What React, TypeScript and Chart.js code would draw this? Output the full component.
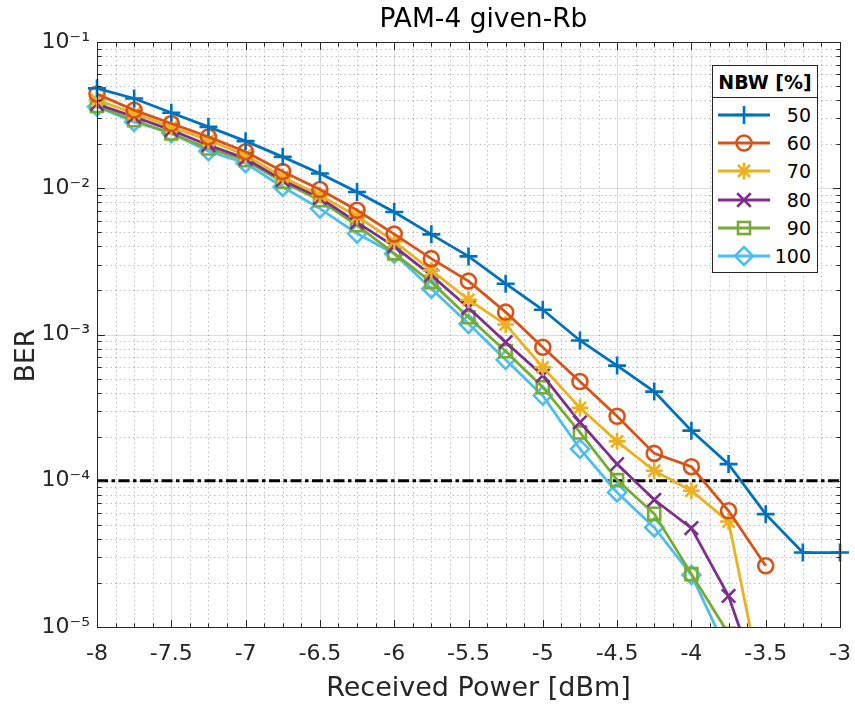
import React, { useEffect, useRef } from 'react';
import { Chart, registerables } from 'chart.js';

Chart.register(...registerables);

// ---------- data ----------
const power = [-8, -7.75, -7.5, -7.25, -7, -6.75, -6.5, -6.25, -6, -5.75, -5.5, -5.25, -5, -4.75, -4.5, -4.25, -4, -3.75, -3.5, -3.25, -3];

const ber50 = [0.0482, 0.0411, 0.0328, 0.0263, 0.0210, 0.01639, 0.01262, 0.00943, 0.00688, 0.00484, 0.00342, 0.002225, 0.001476, 0.00091, 0.000613, 0.000407, 0.00022, 0.00013, 0.0000591, 0.0000323, 0.0000323];
const ber60 = [0.0441, 0.0342, 0.0277, 0.02246, 0.01778, 0.0130, 0.0098, 0.00707, 0.00486, 0.0033, 0.002317, 0.001422, 0.000818, 0.000477, 0.000276, 0.0001538, 0.0001247, 0.0000623, 0.0000262];
const ber70 = [0.0401, 0.0325, 0.0263, 0.0213, 0.01683, 0.01195, 0.00895, 0.00643, 0.00433, 0.002744, 0.00173, 0.00117, 0.000597, 0.000315, 0.000186, 0.000117, 0.0000854, 0.0000526, 0.000003];
const ber80 = [0.0376, 0.0308, 0.02495, 0.0197, 0.01597, 0.01135, 0.00861, 0.00585, 0.00401, 0.002536, 0.001524, 0.000886, 0.000524, 0.000251, 0.00013, 0.0000741, 0.0000474, 0.0000163, 0.000003];
const ber90 = [0.0365, 0.0292, 0.0237, 0.0187, 0.01556, 0.01105, 0.00828, 0.00558, 0.00359, 0.00228, 0.001313, 0.000769, 0.000436, 0.000214, 0.000101, 0.0000594, 0.000023, 0.000009];
const ber100 = [0.0361, 0.0284, 0.0238, 0.0179, 0.01483, 0.0102, 0.00726, 0.0049, 0.00357, 0.002056, 0.001183, 0.000671, 0.000382, 0.000165, 0.0000832, 0.0000479, 0.0000227, 0.0000065];

const nbwLabels = ['50', '60', '70', '80', '90', '100'];
const seriesValues = [ber50, ber60, ber70, ber80, ber90, ber100];
const seriesColors = ['#0072BD', '#D95319', '#EDB120', '#7E2F8E', '#77AC30', '#4DBEEE'];
const seriesMarkers = ['cross', 'circle', 'star', 'crossRot', 'rect', 'rectRot'];
const markerRadius = [9, 7.5, 8.5, 9.5, 8.5, 9];

const berThreshold = 1e-4;
const xMin = -8;
const xMax = -3;
const xStep = 0.5;
const xMinorStep = 0.125;
const yMin = 1e-5;
const yMax = 1e-1;

const titleText = 'PAM-4 given-Rb';
const xTitle = 'Received Power [dBm]';
const yTitle = 'BER';
const legendTitle = 'NBW [%]';

const FONT = "'DejaVu Sans', sans-serif";
const AXIS_COLOR = '#262626';

const SUP: Record<string, string> = { '-': '⁻', '0': '⁰', '1': '¹', '2': '²', '3': '³', '4': '⁴', '5': '⁵', '6': '⁶', '7': '⁷', '8': '⁸', '9': '⁹' };
const toSup = (s: string) => s.split('').map((c) => SUP[c] || c).join('');

// ---------- plugins ----------
const gridPlugin = {
  id: 'matlabGrid',
  beforeDatasetsDraw(chart: any) {
    const { ctx, chartArea } = chart;
    const { left, right, top, bottom } = chartArea;
    const xs = chart.scales.x;
    const ys = chart.scales.y;
    ctx.save();
    ctx.strokeStyle = 'rgba(26,26,26,0.28)';
    ctx.lineWidth = 1;
    ctx.setLineDash([1.5, 3]);
    const nMinor = Math.round((xMax - xMin) / xMinorStep);
    for (let k = 1; k < nMinor; k++) {
      if (k % 4 === 0) continue;
      const px = Math.round(xs.getPixelForValue(xMin + k * xMinorStep)) + 0.5;
      ctx.beginPath();
      ctx.moveTo(px, top);
      ctx.lineTo(px, bottom);
      ctx.stroke();
    }
    for (let d = -5; d < -1; d++) {
      for (let m = 2; m <= 9; m++) {
        const py = Math.round(ys.getPixelForValue(m * Math.pow(10, d))) + 0.5;
        ctx.beginPath();
        ctx.moveTo(left, py);
        ctx.lineTo(right, py);
        ctx.stroke();
      }
    }
    ctx.setLineDash([]);
    ctx.strokeStyle = 'rgba(26,26,26,0.15)';
    for (let v = xMin + xStep; v < xMax - 1e-9; v += xStep) {
      const px = Math.round(xs.getPixelForValue(v)) + 0.5;
      ctx.beginPath();
      ctx.moveTo(px, top);
      ctx.lineTo(px, bottom);
      ctx.stroke();
    }
    for (let d = -4; d <= -2; d++) {
      const py = Math.round(ys.getPixelForValue(Math.pow(10, d))) + 0.5;
      ctx.beginPath();
      ctx.moveTo(left, py);
      ctx.lineTo(right, py);
      ctx.stroke();
    }
    ctx.restore();
  },
  afterDatasetsDraw(chart: any) {
    const { ctx, chartArea } = chart;
    const { left, right, top, bottom } = chartArea;
    const xs = chart.scales.x;
    const ys = chart.scales.y;
    const majorLen = 7.4;
    const minorLen = 4;
    ctx.save();
    ctx.strokeStyle = AXIS_COLOR;
    ctx.lineWidth = 1;
    ctx.setLineDash([]);
    const L = Math.round(left) + 0.5;
    const R = Math.round(right) + 0.5;
    const T = Math.round(top) + 0.5;
    const B = Math.round(bottom) + 0.5;
    ctx.strokeRect(L, T, R - L, B - T);
    ctx.beginPath();
    const nMinor = Math.round((xMax - xMin) / xMinorStep);
    for (let k = 0; k <= nMinor; k++) {
      const len = k % 4 === 0 ? majorLen : minorLen;
      const px = Math.round(xs.getPixelForValue(xMin + k * xMinorStep)) + 0.5;
      ctx.moveTo(px, B);
      ctx.lineTo(px, B - len);
      ctx.moveTo(px, T);
      ctx.lineTo(px, T + len);
    }
    for (let d = -5; d <= -1; d++) {
      for (let m = 1; m <= 9; m++) {
        if (d === -1 && m > 1) break;
        const len = m === 1 ? majorLen : minorLen;
        const py = Math.round(ys.getPixelForValue(m * Math.pow(10, d))) + 0.5;
        ctx.moveTo(L, py);
        ctx.lineTo(L + len, py);
        ctx.moveTo(R, py);
        ctx.lineTo(R - len, py);
      }
    }
    ctx.stroke();
    ctx.restore();
  },
  afterDraw(chart: any) {
    // title and axis labels, placed as in the reference figure
    const { ctx, chartArea } = chart;
    const cx = (chartArea.left + chartArea.right) / 2;
    const cy = (chartArea.top + chartArea.bottom) / 2;
    ctx.save();
    ctx.textAlign = 'center';
    ctx.textBaseline = 'middle';
    ctx.fillStyle = '#000';
    ctx.font = `normal 26.5px ${FONT}`;
    ctx.fillText(titleText, cx + 15, 20);
    ctx.fillStyle = AXIS_COLOR;
    ctx.font = `normal 27px ${FONT}`;
    ctx.fillText(xTitle, cx + 10, 688.5);
    ctx.translate(27, cy + 21);
    ctx.rotate(-Math.PI / 2);
    ctx.font = `normal 26.5px ${FONT}`;
    ctx.fillText(yTitle, 0, 0);
    ctx.restore();
  },
};

// ---------- legend marker ----------
function MarkerSvg({ style, color, cx, cy, r }: { style: string; color: string; cx: number; cy: number; r: number }) {
  const sw = 2.6;
  const d = r * Math.SQRT1_2;
  const common = { stroke: color, strokeWidth: sw, fill: 'none' } as any;
  if (style === 'cross') {
    return <path d={`M${cx - r},${cy}H${cx + r}M${cx},${cy - r}V${cy + r}`} {...common} />;
  }
  if (style === 'crossRot') {
    return <path d={`M${cx - d},${cy - d}L${cx + d},${cy + d}M${cx - d},${cy + d}L${cx + d},${cy - d}`} {...common} />;
  }
  if (style === 'star') {
    return (
      <path
        d={`M${cx - r},${cy}H${cx + r}M${cx},${cy - r}V${cy + r}M${cx - d},${cy - d}L${cx + d},${cy + d}M${cx - d},${cy + d}L${cx + d},${cy - d}`}
        {...common}
      />
    );
  }
  if (style === 'circle') {
    return <circle cx={cx} cy={cy} r={r} {...common} />;
  }
  if (style === 'rect') {
    return <rect x={cx - d} y={cy - d} width={2 * d} height={2 * d} {...common} />;
  }
  return <path d={`M${cx - r},${cy}L${cx},${cy - r}L${cx + r},${cy}L${cx},${cy + r}Z`} {...common} />;
}

function Legend() {
  const rowH = 28.2;
  return (
    <div
      style={{
        position: 'absolute',
        left: 712,
        top: 65,
        width: 106,
        height: 208,
        boxSizing: 'border-box',
        border: `1px solid ${AXIS_COLOR}`,
        background: '#fff',
        fontFamily: FONT,
        color: '#000',
      }}
    >
      <div
        style={{
          position: 'absolute',
          left: 0,
          top: 0,
          width: 104,
          height: 31,
          borderBottom: `1px solid ${AXIS_COLOR}`,
          fontWeight: 'bold',
          fontSize: 19,
          lineHeight: '32px',
          textAlign: 'center',
          whiteSpace: 'nowrap',
        }}
      >
        {legendTitle}
      </div>
      {nbwLabels.map((lab, i) => (
        <div key={lab} style={{ position: 'absolute', left: 0, top: 35 + i * rowH, width: 104, height: 28 }}>
          <svg width={62} height={28} style={{ position: 'absolute', left: 0, top: 0 }}>
            <line x1={5} y1={14} x2={57} y2={14} stroke={seriesColors[i]} strokeWidth={2.8} />
            <MarkerSvg style={seriesMarkers[i]} color={seriesColors[i]} cx={31} cy={14} r={markerRadius[i]} />
          </svg>
          <div
            style={{
              position: 'absolute',
              right: 6,
              top: 0,
              height: 28,
              lineHeight: '28px',
              fontSize: 19,
              textAlign: 'right',
            }}
          >
            {lab}
          </div>
        </div>
      ))}
    </div>
  );
}

export default function App() {
  const canvasRef = useRef<HTMLCanvasElement | null>(null);

  useEffect(() => {
    const canvas = canvasRef.current;
    if (!canvas) return;
    const datasets: any[] = seriesValues.map((vals, i) => ({
      label: nbwLabels[i],
      data: vals.map((v, j) => ({ x: power[j], y: v })),
      borderColor: seriesColors[i],
      backgroundColor: seriesColors[i],
      borderWidth: 2.8,
      pointStyle: seriesMarkers[i],
      pointRadius: markerRadius[i],
      pointBorderColor: seriesColors[i],
      pointBackgroundColor: 'rgba(0,0,0,0)',
      pointBorderWidth: 2.6,
      tension: 0,
      fill: false,
      clip: { left: 12, top: 12, right: 15, bottom: 0 },
    }));
    datasets.push({
      label: 'threshold',
      data: [
        { x: xMin, y: berThreshold },
        { x: xMax, y: berThreshold },
      ],
      borderColor: '#000',
      borderWidth: 3,
      borderDash: [11, 3.5, 3.5, 3.5],
      pointRadius: 0,
      fill: false,
    });

    const chart = new Chart(canvas, {
      type: 'line',
      data: { datasets },
      options: {
        animation: false,
        responsive: false,
        devicePixelRatio: 1,
        layout: { padding: { left: 0, right: 15, top: 42, bottom: 0 } },
        plugins: {
          legend: { display: false },
          tooltip: { enabled: false },
          title: { display: false },
        },
        scales: {
          x: {
            type: 'linear',
            min: xMin,
            max: xMax,
            grid: { display: false, drawTicks: false },
            border: { display: false },
            ticks: {
              stepSize: xStep,
              autoSkip: false,
              maxRotation: 0,
              padding: 14,
              color: AXIS_COLOR,
              font: { family: FONT, size: 22 },
              callback: (v: any) => String(Math.round(Number(v) * 100) / 100),
            },
            afterFit: (s: any) => {
              s.height = 82;
              s.paddingLeft = 0;
              s.paddingRight = 0;
            },
          },
          y: {
            type: 'logarithmic',
            min: yMin,
            max: yMax,
            grid: { display: false, drawTicks: false },
            border: { display: false },
            ticks: {
              autoSkip: false,
              padding: 7,
              color: AXIS_COLOR,
              font: { family: FONT, size: 22 },
              callback: (v: any) => {
                const lg = Math.log10(Number(v));
                if (Math.abs(lg - Math.round(lg)) > 1e-6) return '';
                return '10' + toSup(String(Math.round(lg)));
              },
            },
            afterFit: (s: any) => {
              s.width = 97;
              s.paddingTop = 0;
              s.paddingBottom = 0;
            },
          },
        },
      },
      plugins: [gridPlugin],
    });
    return () => chart.destroy();
  }, []);

  return (
    <div style={{ position: 'absolute', left: 0, top: 0, width: 855, height: 709, background: '#fff' }}>
      <canvas ref={canvasRef} width={855} height={709} style={{ width: 855, height: 709, display: 'block' }} />
      <Legend />
    </div>
  );
}
